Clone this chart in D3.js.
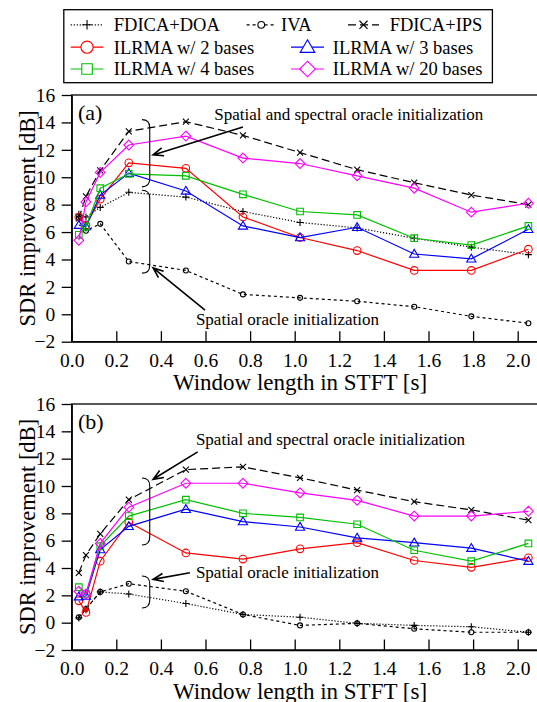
<!DOCTYPE html>
<html>
<head>
<meta charset="utf-8">
<script src="https://cdn.jsdelivr.net/npm/d3@7/dist/d3.min.js"></script>
<style>
body{margin:0;background:#fff;}
svg{display:block;font-family:"Liberation Serif","Times New Roman",serif;}
</style>
</head>
<body>
<div id="chart"></div>
<script>
// window length in STFT [s]
var windowLen = [0.032,0.064,0.128,0.256,0.512,0.768,1.024,1.28,1.536,1.792,2.048];
var xTicks = [0,0.2,0.4,0.6,0.8,1.0,1.2,1.4,1.6,1.8,2.0];
var yTicks = [-2,0,2,4,6,8,10,12,14,16];
var seriesNames = ['FDICA+DOA','IVA','FDICA+IPS','ILRMA w/ 2 bases','ILRMA w/ 3 bases','ILRMA w/ 4 bases','ILRMA w/ 20 bases'];

// (a) SDR improvement [dB]
var doaA     = [7.3,7.1,7.8,8.9,8.55,7.5,6.7,6.3,5.55,4.9,4.35];
var ivaA     = [7.0,6.1,6.6,3.85,3.2,1.45,1.2,0.95,0.55,-0.15,-0.65];
var ipsA     = [7.0,8.6,10.5,13.35,14.05,13.05,11.8,10.55,9.6,8.7,8.0];
var ilrma2A  = [7.1,6.5,8.4,11.05,10.65,7.1,5.6,4.65,3.2,3.2,4.75];
var ilrma3A  = [6.5,6.4,8.7,10.3,9.0,6.45,5.6,6.35,4.4,4.05,6.2];
var ilrma4A  = [5.8,6.4,9.2,10.25,10.1,8.75,7.5,7.25,5.55,5.05,6.45];
var ilrma20A = [5.4,8.2,10.35,12.35,13.0,11.4,11.0,10.1,9.2,7.45,8.1];

// (b) SDR improvement [dB]
var doaB     = [0.35,1.0,2.25,2.1,1.4,0.6,0.4,-0.05,-0.2,-0.3,-0.7];
var ivaB     = [0.4,1.0,2.25,2.85,2.3,0.6,-0.2,-0.05,-0.45,-0.7,-0.7];
var ipsB     = [3.65,4.95,6.5,9.0,11.2,11.4,10.6,9.7,8.85,8.25,7.5];
var ilrma2B  = [1.6,0.75,4.5,7.35,5.1,4.65,5.4,5.85,4.55,4.05,4.75];
var ilrma3B  = [1.9,1.95,5.35,7.05,8.3,7.4,7.0,6.2,5.85,5.45,4.5];
var ilrma4B  = [2.6,2.1,5.6,7.8,9.0,8.0,7.7,7.2,5.3,4.5,5.8];
var ilrma20B = [2.3,2.1,5.8,8.45,10.2,10.2,9.5,8.95,7.8,7.8,8.15];

var noteOuter = 'Spatial and spectral oracle initialization';
var noteInner = 'Spatial oracle initialization';

// look of each series
var styles = [
    {color:'#000', dash:'1.2,1.8', marker:'plus'},
    {color:'#000', dash:'3,3', marker:'dot'},
    {color:'#000', dash:'8,4', marker:'cross'},
    {color:'#ff0000', dash:null, marker:'circle'},
    {color:'#0000ff', dash:null, marker:'triangle'},
    {color:'#00c000', dash:null, marker:'square'},
    {color:'#ff00ff', dash:null, marker:'diamond'}
];

var W = 537, H = 702;
var svg = d3.select('#chart').append('svg')
    .attr('width',W)
    .attr('height',H)
    .attr('font-family','Liberation Serif, Times New Roman, serif');

// marker shape, k = scale
function markerPath(type,k){
    var s;
    switch(type){
        case 'plus': s=3.5*k; return 'M'+(-s)+',0H'+s+'M0,'+(-s)+'V'+s;
        case 'cross': s=3.0*k; return 'M'+(-s)+','+(-s)+'L'+s+','+s+'M'+(-s)+','+s+'L'+s+','+(-s);
        case 'dot': s=2.5*k; return d3.arc()({innerRadius:0,outerRadius:s,startAngle:0,endAngle:2*Math.PI});
        case 'circle': s=3.8*k; return d3.arc()({innerRadius:0,outerRadius:s,startAngle:0,endAngle:2*Math.PI});
        case 'triangle': s=4.6*k; return 'M0,'+(-s)+'L'+(s*1.0)+','+(s*0.7)+'L'+(-s*1.0)+','+(s*0.7)+'Z';
        case 'square': s=3.3*k; return 'M'+(-s)+','+(-s)+'H'+s+'V'+s+'H'+(-s)+'Z';
        case 'diamond': s=4.9*k; return 'M0,'+(-s)+'L'+s+',0L0,'+s+'L'+(-s)+',0Z';
    }
}

var panels = [
    {label:'(a)', top:95, bottom:341.7, series:[doaA,ivaA,ipsA,ilrma2A,ilrma3A,ilrma4A,ilrma20A],
     outer:{tx:0.639, ty:14.2, from:[0.768,13.67], to:[0.365,11.63], brace:[14.2,9.3]},
     inner:{tx:0.557, ty:-0.78, from:[0.598,0.31], to:[0.365,3.38], brace:[9.05,3.0]}},
    {label:'(b)', top:404, bottom:650, series:[doaB,ivaB,ipsB,ilrma2B,ilrma3B,ilrma4B,ilrma20B],
     outer:{tx:0.557, ty:13.0, from:[0.565,12.5], to:[0.365,10.49], brace:[10.58,5.68]},
     inner:{tx:0.557, ty:3.27, from:[0.53,3.65], to:[0.365,3.17], brace:[3.41,1.07]}}
];

var left = 71.7, right = 540;

panels.forEach(function(p){
    var x = d3.scaleLinear().domain([0,2.1]).range([left,right]);
    var y = d3.scaleLinear().domain([-2,16]).range([p.bottom,p.top]);
    var g = svg.append('g');

    // frame
    g.append('rect')
        .attr('x',left).attr('y',p.top)
        .attr('width',right-left).attr('height',p.bottom-p.top)
        .attr('fill','none').attr('stroke','#000').attr('stroke-width',1.3);

    var axisX = d3.axisBottom(x)
        .tickValues(xTicks)
        .tickSizeInner(-10.5)
        .tickSizeOuter(0)
        .tickPadding(11.5)
        .tickFormat(d3.format('.1f'));
    var axisY = d3.axisLeft(y)
        .tickValues(yTicks)
        .tickSizeInner(10)
        .tickSizeOuter(0)
        .tickPadding(6.5);

    var gx = g.append('g').attr('transform','translate(0,'+p.bottom+')').call(axisX);
    var gy = g.append('g').attr('transform','translate('+left+',0)').call(axisY);
    [gx,gy].forEach(function(a){
        a.attr('font-family',null);
        a.select('.domain').attr('stroke-width',1.3);
        a.selectAll('.tick line').attr('stroke-width',1.3);
        a.selectAll('text').attr('font-size','19.5px').attr('fill','#000');
    });

    g.append('text')
        .attr('x',300).attr('y',p.bottom+48.5)
        .attr('text-anchor','middle')
        .attr('font-size','23px')
        .text('Window length in STFT [s]');
    g.append('text')
        .attr('transform','translate(35,'+((p.top+p.bottom)/2)+') rotate(-90)')
        .attr('text-anchor','middle')
        .attr('font-size','22.5px')
        .text('SDR improvement [dB]');
    g.append('text')
        .attr('x',78).attr('y',p.top+25)
        .attr('font-size','22px')
        .text(p.label);

    // series
    var line = d3.line()
        .x(function(d,i){return x(windowLen[i]);})
        .y(function(d){return y(d);});

    p.series.forEach(function(vals,si){
        var st = styles[si];
        g.append('path')
            .datum(vals)
            .attr('d',line)
            .attr('fill','none')
            .attr('stroke',st.color)
            .attr('stroke-width',1.2)
            .attr('stroke-dasharray',st.dash);
        g.selectAll('.m'+si)
            .data(vals)
            .enter()
            .append('path')
            .attr('class','m'+si)
            .attr('transform',function(d,i){return 'translate('+x(windowLen[i])+','+y(d)+')';})
            .attr('d',markerPath(st.marker,1))
            .attr('fill','none')
            .attr('stroke',st.color)
            .attr('stroke-width',1.1);
    });

    // annotations: braces + arrows + text
    [p.outer,p.inner].forEach(function(n,ni){
        var bx0 = x(0.315), bx1 = x(0.35);
        var y0 = y(n.brace[0]), y1 = y(n.brace[1]), r = 8;
        g.append('path')
            .attr('d','M'+bx0+','+y0+'Q'+bx1+','+y0+' '+bx1+','+(y0+r)+'L'+bx1+','+(y1-r)+'Q'+bx1+','+y1+' '+bx0+','+y1)
            .attr('fill','none').attr('stroke','#000').attr('stroke-width',1.1);

        var fx = x(n.from[0]), fy = y(n.from[1]), tx = x(n.to[0]), ty = y(n.to[1]);
        var ang = Math.atan2(fy-ty,fx-tx), hl = 11, ha = 0.38;
        g.append('path')
            .attr('d','M'+fx+','+fy+'L'+tx+','+ty+
                'M'+(tx+hl*Math.cos(ang+ha))+','+(ty+hl*Math.sin(ang+ha))+'L'+tx+','+ty+
                'L'+(tx+hl*Math.cos(ang-ha))+','+(ty+hl*Math.sin(ang-ha)))
            .attr('fill','none').attr('stroke','#000').attr('stroke-width',1.6);

        g.append('text')
            .attr('x',x(n.tx)).attr('y',y(n.ty))
            .attr('font-size','17px')
            .text(ni===0 ? noteOuter : noteInner);
    });
});

// legend
var legendPos = [
    {x0:70.7,x1:103.4,tx:113.8,row:0},
    {x0:246.6,x1:275.9,tx:281,row:0},
    {x0:348,x1:379,tx:389.7,row:0},
    {x0:70.7,x1:103.4,tx:113.8,row:1},
    {x0:291,x1:324,tx:332.8,row:1},
    {x0:70.7,x1:103.4,tx:113.8,row:2},
    {x0:291,x1:324,tx:332.8,row:2}
];
var rowY = [24.8,47.2,69];
var lg = svg.append('g');
lg.append('rect')
    .attr('x',63.8).attr('y',9.7)
    .attr('width',428.6).attr('height',73)
    .attr('fill','#fff').attr('stroke','#000').attr('stroke-width',1.3);

seriesNames.forEach(function(name,i){
    var lp = legendPos[i], st = styles[i], cy = rowY[lp.row];
    lg.append('line')
        .attr('x1',lp.x0).attr('x2',lp.x1).attr('y1',cy).attr('y2',cy)
        .attr('stroke',st.color).attr('stroke-width',1.2)
        .attr('stroke-dasharray',st.dash);
    lg.append('path')
        .attr('transform','translate('+((lp.x0+lp.x1)/2)+','+cy+')')
        .attr('d',markerPath(st.marker,i<3 ? 1.35 : 1.6))
        .attr('fill','#fff')
        .attr('stroke',st.color).attr('stroke-width',1.1);
    lg.append('text')
        .attr('x',lp.tx).attr('y',cy+6.3)
        .attr('font-size','18.5px')
        .text(name);
});
</script>
</body>
</html>
